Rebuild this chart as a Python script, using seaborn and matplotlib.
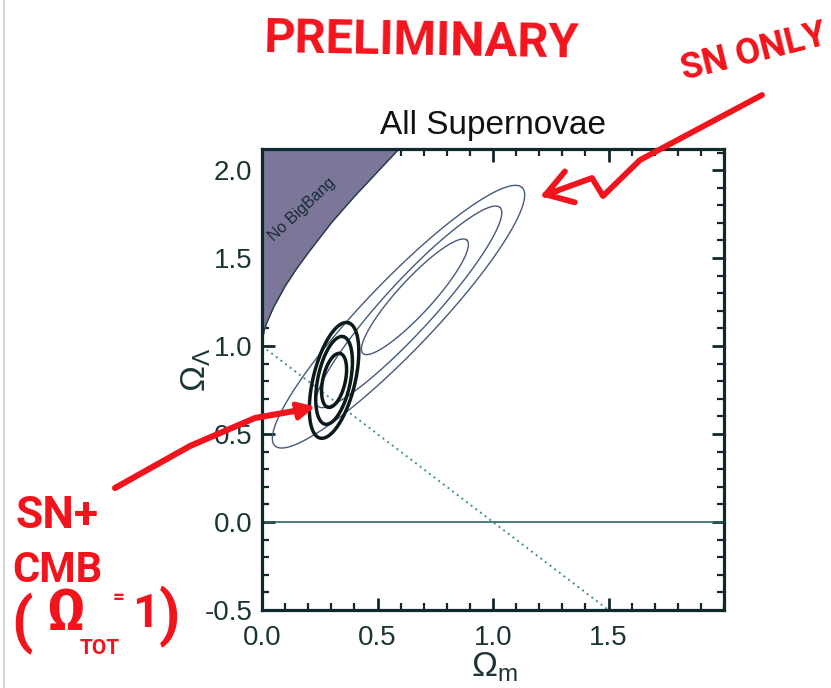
import numpy as np
import pandas as pd
import matplotlib
matplotlib.use("Agg")
import matplotlib.pyplot as plt
from matplotlib.ticker import MultipleLocator
from matplotlib.lines import Line2D
from matplotlib.patches import FancyArrowPatch
import seaborn as sns

# ---------------- data ----------------
omega_m_major = [0.0, 0.5, 1.0, 1.5]
omega_l_major = [-0.5, 0.0, 0.5, 1.0, 1.5, 2.0]
x_limits = [0.0, 2.0]
y_limits = [-0.5, 2.12]

# "No Big Bang" boundary
nobb_om = [0.00, 0.01, 0.02, 0.05, 0.10, 0.15, 0.20, 0.30, 0.40, 0.50, 0.60]
nobb_ol = [1.02, 1.09, 1.13, 1.22, 1.34, 1.44, 1.53, 1.70, 1.85, 1.99, 2.13]

# flat universe line and zero line
flat_om = [0.0, 1.5]
flat_ol = [1.0, -0.5]
zero_om = [0.0, 2.0]
zero_ol = [0.0, 0.0]

# SN-only confidence contours (outer, middle, inner): centre + conjugate half-axes
sn_cx = [0.591, 0.636, 0.662]
sn_cy = [1.167, 1.223, 1.280]
sn_ax = [0.535, 0.394, 0.225]
sn_ay = [0.734, 0.565, 0.322]
sn_bx = [0.110, 0.080, 0.055]
sn_by = [-0.136, -0.095, -0.066]

# SN + CMB contours (outer, middle, inner)
cmb_cx = [0.312, 0.312, 0.312]
cmb_cy = [0.805, 0.805, 0.805]
cmb_ax = [0.0606, 0.039, 0.026]
cmb_ay = [0.328, 0.249, 0.153]
cmb_bx = [0.0883, 0.0693, 0.0476]
cmb_by = [-0.0277, -0.0186, -0.0136]


def contour_frame(cx, cy, axv, ayv, bxv, byv, name):
    t = np.linspace(0, 2 * np.pi, 361)
    rows = []
    for i in range(len(cx)):
        om = cx[i] + axv[i] * np.cos(t) + bxv[i] * np.sin(t)
        ol = cy[i] + ayv[i] * np.cos(t) + byv[i] * np.sin(t)
        rows.append(pd.DataFrame({"om": om, "ol": ol, "contour": f"{name}{i}"}))
    return pd.concat(rows, ignore_index=True)


sn_df = contour_frame(sn_cx, sn_cy, sn_ax, sn_ay, sn_bx, sn_by, "sn")
cmb_df = contour_frame(cmb_cx, cmb_cy, cmb_ax, cmb_ay, cmb_bx, cmb_by, "cmb")

# ---------------- style ----------------
sns.set_style("ticks")
plt.rcParams["font.family"] = ["Liberation Sans", "DejaVu Sans"]
plt.rcParams["mathtext.fontset"] = "custom"
plt.rcParams["mathtext.rm"] = "Liberation Sans"
plt.rcParams["mathtext.it"] = "Liberation Sans"
plt.rcParams["mathtext.bf"] = "Liberation Sans:bold"

W, H = 831, 688
fig = plt.figure(figsize=(W / 100, H / 100), dpi=100)
fig.patch.set_facecolor("white")
ax = fig.add_axes([262 / W, 1 - 610 / H, 462 / W, 461 / H])

dark = "#10292c"
axis_text = "#1b3436"

# shaded No-Big-Bang region
ax.fill_between(nobb_om, nobb_ol, y_limits[1] + 0.1, color="#7c7799", lw=0, zorder=1)
ax.plot(nobb_om, nobb_ol, color="#243c4a", lw=1.0, zorder=2)
ax.text(0.175, 1.775, "No BigBang", rotation=43, fontsize=11.5, color="#172b35",
        ha="center", va="center", zorder=3)

# zero and flat lines
sns.lineplot(x=zero_om, y=zero_ol, ax=ax, color="#2d6466", lw=1.2, zorder=2)
sns.lineplot(x=flat_om, y=flat_ol, ax=ax, color="#3a9095", lw=1.4,
             linestyle=(0, (1, 2.0)), zorder=2)

# contours
sns.lineplot(data=sn_df, x="om", y="ol", units="contour", estimator=None, sort=False,
             ax=ax, color="#46597a", lw=1.0, zorder=4)
sns.lineplot(data=cmb_df, x="om", y="ol", units="contour", estimator=None, sort=False,
             ax=ax, color="#0c1a1c", lw=2.5, zorder=5)

ax.set_xlim(*x_limits)
ax.set_ylim(*y_limits)
ax.set_xticks(omega_m_major)
ax.set_xticklabels([f"{v:.1f}" for v in omega_m_major])
ax.set_yticks(omega_l_major)
ax.set_yticklabels([f"{v:.1f}" for v in omega_l_major])
ax.xaxis.set_minor_locator(MultipleLocator(0.1))
ax.yaxis.set_minor_locator(MultipleLocator(0.1))
ax.tick_params(which="both", direction="in", top=True, right=True, colors=dark,
               labelcolor=axis_text, labelsize=20)
ax.tick_params(which="major", length=9, width=2)
ax.tick_params(which="minor", length=5, width=1.6)
ax.tick_params(axis="x", which="major", pad=11)
ax.tick_params(axis="y", which="major", pad=7)
for s in ax.spines.values():
    s.set_linewidth(2.3)
    s.set_color(dark)

ax.set_title("All Supernovae", fontsize=24, color="#111", pad=11)
ax.set_xlabel(r"$\Omega_{\mathrm{m}}$", fontsize=25, color=axis_text)
ax.set_ylabel(r"$\Omega_{\Lambda}$", fontsize=25, color=axis_text)
ax.xaxis.set_label_coords(0.502, -0.088)
ax.yaxis.set_label_coords(-0.105, 0.52)
ax.set_facecolor("white")

# ---------------- red hand annotations ----------------
red = "#f2141c"
hand = ["Roboto", "DejaVu Sans"]


def fp(x, y):
    return (x / W, 1 - y / H)


def red_text(x, y, s, size, rot=0, ha="center"):
    fig.text(*fp(x, y), s, color=red, fontsize=size, fontweight="bold",
             family=hand, ha=ha, va="center", rotation=rot, zorder=11)


red_text(422, 42, "PRELIMINARY", 35, rot=-1)
red_text(754, 52, "SN ONLY", 26, rot=14)
red_text(57, 516, "SN+", 32)
red_text(57, 570, "CMB", 30)
red_text(22, 624, "(", 44)
red_text(66, 614, "Ω", 42)
red_text(100, 649, "TOT", 15)
red_text(119, 597, "=", 15)
red_text(146, 614, "1", 34)
red_text(170, 617, ")", 44)

# arrow: SN ONLY
p1 = [fp(*p) for p in [(762, 95), (700, 128), (640, 160), (603, 196), (592, 178), (570, 186), (545, 195)]]
fig.add_artist(Line2D([p[0] for p in p1], [p[1] for p in p1], transform=fig.transFigure,
                      color=red, lw=4.2, solid_capstyle="round", solid_joinstyle="round", zorder=10))
fig.add_artist(FancyArrowPatch(fp(560, 190), fp(538, 197), transform=fig.transFigure,
                               arrowstyle="->,head_length=0.7,head_width=0.45",
                               mutation_scale=26, color=red, lw=4.2, zorder=10))

# arrow: SN + CMB
p2 = [fp(*p) for p in [(115, 488), (190, 446), (255, 418), (300, 410)]]
fig.add_artist(Line2D([p[0] for p in p2], [p[1] for p in p2], transform=fig.transFigure,
                      color=red, lw=4.4, solid_capstyle="round", solid_joinstyle="round", zorder=10))
fig.add_artist(FancyArrowPatch(fp(296, 411), fp(318, 406), transform=fig.transFigure,
                               arrowstyle="-|>", mutation_scale=26, color=red, lw=3.5, zorder=10))

# scanned page edge
fig.add_artist(Line2D([4 / W, 4 / W], [0, 1], transform=fig.transFigure, color="#cfcfcf", lw=1.2))

fig.savefig("out.png", dpi=100)
